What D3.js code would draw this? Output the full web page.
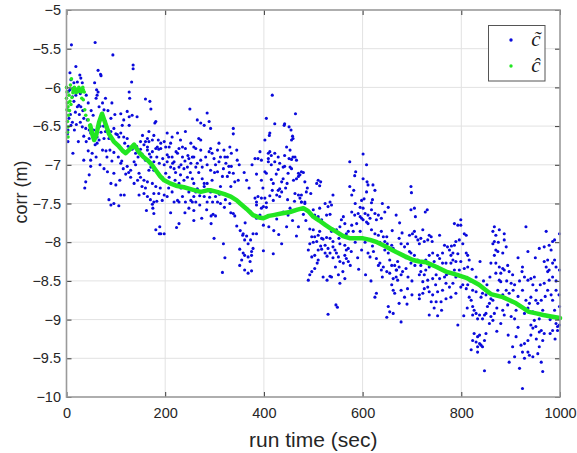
<!DOCTYPE html>
<html>
<head>
<meta charset="utf-8">
<script src="https://cdn.jsdelivr.net/npm/d3@7"></script>
<style>
  body { margin: 0; background: #fff; }
  text { font-family: Arial, "Liberation Sans", Helvetica, sans-serif; }
</style>
</head>
<body>
<div class="chart"></div>
<script>
// Tick values
var xTicks = [0, 200, 400, 600, 800, 1000];
var yTicks = [-10, -9.5, -9, -8.5, -8, -7.5, -7, -6.5, -6, -5.5, -5];

var cTildeEarly = [
  [10,-5.45],[58,-5.42],[19,-5.73],[7,-5.81],[64,-5.78],[69,-5.83],[70,-5.85],[27,-5.84],[29,-5.88],[32,-5.94],
  [22,-5.93],[15,-5.94],[9,-5.9],[14,-6.01],[7,-6.03],[57,-5.94],[61,-6.03],[64,-6.06],[62,-6.1],[60,-6.14],
  [79,-6.14],[73,-6.2],[76,-6.29],[19,-6.1],[15,-6.18],[25,-6.23],[22,-6.25],[29,-6.25],[2,-6.29],[5,-6.4],
  [9,-6.49],[3,-6.55],[35,-6.4],[42,-6.42],[32,-6.51],[39,-6.53],[46,-6.55],[49,-6.59],[35,-6.63],[46,-6.66],
  [56,-6.66],[62,-6.64],[90,-6.4],[79,-6.44],[83,-6.53],[96,-6.53],[79,-6.57],[90,-6.57],[86,-6.66],[76,-6.66],
  [96,-6.7],[35,-6.94],[49,-6.94],[49,-7.02],[46,-7.13],[39,-7.22],[37,-7.3],[83,-7.09],[96,-7.11],[90,-7.24],
  [100,-7.26],[86,-7.45],[96,-7.5],[90,-7.52],[106,-7.53],[2,-6.6],[3,-6.7],[73,-6.81],[80,-6.82],[88,-6.81],
  [96,-6.84],[62,-6.72],[58,-6.74],[24,-6.02],[28,-6.08],[12,-6.12],[40,-6.1],[44,-6.2],[26,-6.35],[18,-6.32],
  [50,-6.3],[54,-6.36],[66,-6.25],[68,-6.5],[70,-6.58],[4,-6.05],[8,-6.35],[12,-6.45],[16,-6.55],[20,-6.48],
  [28,-6.45],[33,-6.3],[40,-6.7],[44,-6.82],[52,-6.85],[55,-6.55],[66,-6.68],[70,-6.4],[75,-6.5],[84,-6.3],
  [92,-6.2],[98,-6.35],[82,-6.9],[92,-6.95],[100,-6.6],[24,-6.7],[13,-6.85],[60,-6.9],[68,-7.0],[76,-7.05]
];

var cTildeA = [
  [94,-5.58],[135,-5.71],[135,-5.76],[132,-5.93],[127,-6.06],[128,-6.14],[160,-6.15],[169,-6.18],[171,-6.28],[250,-6.28],
  [285,-6.33],[265,-6.42],[272,-6.46],[279,-6.49],[268,-6.66],[272,-6.68],[258,-6.77],[289,-6.44],[292,-6.53],[110,-6.34],
  [123,-6.31],[127,-6.38],[133,-6.36],[143,-6.38],[116,-6.42],[113,-6.49],[127,-6.49],[181,-6.44],[179,-6.46],[103,-6.61],
  [110,-6.59],[116,-6.64],[123,-6.66],[106,-6.64],[150,-6.7],[160,-6.7],[157,-6.74],[167,-6.7],[164,-6.77],[174,-6.68],
  [164,-6.81],[181,-6.79],[187,-6.8],[191,-6.79],[211,-6.72],[208,-6.77],[228,-6.79],[241,-6.79],[204,-6.87],[214,-6.9],
  [235,-6.9],[248,-6.92],[258,-6.9],[222,-6.83],[225,-6.85],[292,-6.79],[289,-6.83],[295,-6.85],[306,-6.81],[309,-6.72],
  [319,-6.81],[312,-6.9],[326,-6.9],[323,-6.98],[329,-7.02],[309,-6.96],[302,-7.0],[292,-7.07],[306,-7.09],[316,-7.15],
  [295,-7.2],[285,-7.24],[279,-7.28],[292,-7.35],[312,-7.28],[326,-7.15],[333,-7.28],[123,-7.02],[130,-7.07],[137,-6.96],
  [140,-7.0],[147,-7.11],[150,-7.16],[157,-7.2],[164,-7.22],[130,-7.16],[137,-7.24],[147,-7.39],[157,-7.37],[164,-7.41],
  [174,-7.24],[181,-7.28],[177,-7.37],[187,-7.37],[198,-7.39],[204,-7.41],[214,-7.35],[218,-7.48],[225,-7.46],[235,-7.41],
  [241,-7.48],[252,-7.46],[258,-7.41],[262,-7.48],[279,-7.41],[285,-7.48],[296,-7.48],[302,-7.41],[306,-7.48],[228,-7.24],
  [238,-7.2],[245,-7.16],[255,-7.18],[258,-7.24],[265,-7.31],[275,-7.18],[279,-7.24],[218,-7.05],[228,-7.03],[231,-7.13],
  [238,-7.05],[245,-7.03],[252,-6.98],[262,-7.03],[275,-7.03],[285,-7.0],[198,-7.0],[204,-6.96],[211,-7.03],[218,-6.96],
  [201,-7.11],[208,-7.16],[194,-7.16],[187,-7.13],[177,-7.07],[167,-7.07],[171,-7.03],[157,-6.9],[160,-6.94],[171,-6.9],
  [177,-6.96],[174,-6.83],[184,-6.77],[191,-6.72],[198,-6.7],[201,-6.77],[164,-6.66],[154,-6.62],[177,-6.62],[186,-6.68],
  [167,-6.57],[204,-6.59],[214,-6.64],[225,-6.59],[231,-6.68],[241,-6.57],[235,-6.77],[252,-6.72],[262,-6.79],[272,-6.81],
  [255,-6.9],[265,-6.98],[117,-7.39],[110,-7.39],[105,-6.9],[112,-6.95],[140,-6.85],[145,-6.9],[120,-7.12],[108,-7.2],
  [162,-7.59],[174,-7.51],[177,-7.48],[175,-7.56],[177,-7.63],[181,-7.84],[189,-7.8],[188,-7.89],[191,-7.89],[198,-7.89],
  [194,-7.46],[211,-7.62],[228,-7.48],[228,-7.76],[223,-7.81],[255,-7.48],[258,-7.59],[258,-7.72],[274,-7.69],[293,-7.66],
  [297,-7.64],[302,-7.66],[293,-7.76],[299,-7.95],[312,-7.5],[318,-8.02],[321,-8.2],[316,-8.39],[333,-7.62],
  [118,-6.72],[125,-6.76],[133,-6.8],[142,-6.76],[150,-6.8],[153,-6.86],[168,-6.86],[183,-6.9],[188,-6.98],[195,-6.92],
  [207,-6.9],[215,-6.98],[221,-7.1],[232,-7.0],[240,-6.95],[246,-6.88],[251,-7.1],[268,-7.1],[272,-6.94],[282,-6.9],
  [299,-6.92],[300,-7.1],[318,-7.05],[321,-6.9],[330,-7.1],[110,-6.98],[115,-7.05],[126,-7.1],[144,-7.2],[153,-7.28],
  [160,-7.3],[170,-7.45],[183,-7.47],[190,-7.3],[207,-7.3],[220,-7.2],[232,-7.3],[248,-7.35],[262,-7.35],[270,-7.4],
  [290,-7.42],[310,-7.38],[322,-7.45],[270,-7.52],[248,-7.56],[240,-7.62],[284,-7.58],[320,-7.55]
];

var cTildeB = [
  [417,-6.1],[405,-6.4],[422,-6.47],[442,-6.47],[441,-6.49],[464,-6.34],[412,-6.59],[411,-6.62],[451,-6.51],[455,-6.55],
  [458,-6.63],[459,-6.66],[456,-6.68],[338,-6.53],[338,-6.6],[402,-6.68],[392,-6.83],[409,-6.85],[412,-6.83],[415,-6.88],
  [422,-6.85],[409,-6.92],[382,-6.92],[388,-6.92],[395,-6.94],[429,-6.9],[442,-6.88],[446,-6.77],[453,-6.81],[451,-6.92],
  [459,-6.9],[463,-6.9],[466,-6.94],[456,-6.93],[422,-6.96],[432,-6.98],[439,-7.03],[442,-7.02],[429,-7.06],[415,-7.0],
  [409,-6.96],[453,-7.03],[456,-7.05],[449,-7.11],[402,-7.09],[405,-7.11],[385,-7.12],[470,-7.11],[473,-7.13],[476,-7.09],
  [480,-7.1],[470,-7.15],[466,-7.18],[483,-7.22],[415,-7.19],[419,-7.24],[436,-7.22],[439,-7.18],[447,-7.24],[432,-7.31],
  [429,-7.33],[436,-7.35],[417,-7.33],[426,-7.39],[432,-7.41],[463,-7.37],[470,-7.39],[476,-7.39],[473,-7.43],[476,-7.48],
  [486,-7.35],[495,-7.37],[483,-7.48],[510,-7.2],[507,-7.24],[513,-7.27],[515,-7.22],[540,-7.39],[534,-7.48],[574,-6.96],
  [584,-7.14],[586,-7.09],[574,-7.28],[582,-7.33],[578,-7.39],[598,-7.46],[603,-7.44],[601,-6.86],[608,-7.0],[601,-7.18],
  [609,-7.22],[611,-7.26],[621,-7.26],[625,-7.33],[618,-7.49],[608,-7.35],[331,-6.77],[334,-6.85],[345,-6.81],[346,-6.94],
  [334,-7.02],[338,-7.11],[341,-7.22],[348,-7.2],[365,-7.2],[331,-7.5],[382,-7.43],[388,-7.41],[395,-7.43],[402,-7.43],
  [385,-7.48],[405,-7.49],[419,-7.46],[698,-7.28],[699,-7.36],
  [350,-7.0],[360,-7.1],[370,-7.3],[376,-7.0],[395,-7.2],[398,-7.3],[412,-7.4],[425,-7.12],[444,-7.3],[448,-7.45],
  [460,-7.2],[462,-7.47],[488,-7.3],[372,-7.6],[392,-7.65],[410,-7.8],[420,-7.85],[430,-7.9],[446,-7.8],[458,-7.72],
  [470,-7.8],[485,-7.72],[362,-7.75],[352,-7.85]
];

var cTildeC = [
  [338,-7.63],[341,-7.66],[345,-7.79],[358,-7.89],[357,-7.91],[365,-7.92],[361,-7.97],[351,-8.09],[358,-8.14],[361,-8.17],
  [368,-8.19],[375,-8.17],[372,-8.25],[355,-8.23],[351,-8.3],[361,-8.36],[368,-8.4],[375,-8.37],[378,-7.89],[385,-7.89],
  [373,-7.97],[368,-8.02],[378,-8.08],[375,-8.12],[385,-7.52],[395,-7.56],[399,-7.54],[405,-7.55],[385,-7.69],[399,-7.78],
  [399,-8.11],[419,-8.15],[436,-8.02],[466,-7.92],[426,-7.7],[439,-7.61],[453,-7.56],[449,-7.65],[476,-7.48],[483,-7.5],
  [480,-7.64],[493,-7.83],[500,-7.84],[497,-7.93],[503,-7.93],[510,-7.91],[513,-7.86],[517,-7.95],[520,-7.96],[527,-7.94],
  [534,-7.95],[524,-8.04],[507,-7.99],[493,-8.02],[490,-8.1],[497,-8.19],[503,-8.17],[510,-8.23],[508,-8.27],[503,-8.34],
  [497,-8.38],[493,-8.42],[490,-8.49],[510,-8.1],[517,-8.09],[524,-8.14],[530,-8.08],[534,-8.14],[540,-8.06],[544,-8.1],
  [547,-8.14],[551,-8.19],[554,-8.25],[561,-8.27],[567,-8.1],[571,-8.08],[564,-8.17],[567,-8.21],[571,-8.25],[564,-8.04],
  [554,-8.02],[540,-7.99],[537,-7.86],[547,-7.84],[554,-7.8],[557,-7.71],[561,-7.67],[564,-7.76],[571,-7.86],[567,-7.89],
  [527,-7.65],[534,-7.64],[530,-7.54],[537,-7.52],[524,-7.5],[513,-7.56],[500,-7.58],[503,-7.65],[510,-7.67],[517,-7.71],
  [520,-8.45],[528,-8.49],[534,-8.44],[537,-8.45],[551,-8.42],[554,-8.53],[564,-8.47],[546,-8.81],[549,-8.84],[530,-8.93],
  [578,-7.61],[584,-7.65],[591,-7.63],[595,-7.67],[598,-7.69],[601,-7.71],[608,-7.74],[605,-7.63],[611,-7.65],[615,-7.69],
  [618,-7.58],[625,-7.63],[628,-7.71],[632,-7.65],[638,-7.69],[645,-7.61],[601,-7.56],[588,-7.76],[581,-7.86],[595,-7.86],
  [578,-7.78],[611,-7.76],[618,-7.84],[625,-7.89],[632,-7.91],[638,-7.86],[642,-7.93],[645,-7.99],[649,-7.93],[598,-8.1],
  [611,-8.14],[615,-8.19],[622,-8.12],[628,-8.21],[632,-8.3],[635,-8.27],[638,-8.36],[642,-8.32],[649,-8.38],[655,-8.4],
  [662,-8.47],[659,-8.55],[662,-8.62],[665,-8.66],[669,-8.36],[665,-8.3],[645,-8.1],[652,-8.14],[655,-8.23],[659,-8.3],
  [628,-8.66],[625,-8.71],[652,-8.83],[655,-8.9],[662,-8.92],[649,-8.97],[659,-8.04],[662,-8.08],
  [500,-8.0],[515,-8.05],[528,-8.18],[540,-8.2],[545,-8.32],[560,-8.38],[575,-8.3],[585,-8.0],[590,-8.2],[605,-8.0],
  [620,-8.05],[635,-8.0],[650,-8.02],[660,-7.85],[585,-7.5],[595,-7.55],[620,-7.45],[640,-7.5],[652,-7.55],[668,-7.65],
  [675,-7.75],[680,-7.88],[592,-8.35],[606,-8.42],[617,-8.5],[640,-8.45],[552,-7.95],[577,-8.12]
];

var cTildeD = [
  [698,-7.58],[705,-7.56],[707,-7.67],[727,-7.61],[731,-7.58],[695,-7.91],[701,-7.89],[705,-7.86],[708,-7.93],[712,-7.97],
  [715,-8.02],[718,-7.95],[722,-7.84],[725,-7.99],[732,-7.97],[735,-7.91],[739,-7.93],[741,-7.99],[756,-7.91],[674,-7.95],
  [678,-8.02],[685,-8.06],[691,-8.02],[695,-8.12],[698,-8.14],[705,-8.17],[712,-8.23],[718,-8.3],[722,-8.25],[728,-8.23],
  [735,-8.17],[742,-8.14],[752,-8.17],[756,-8.21],[762,-8.14],[766,-8.04],[772,-8.06],[776,-8.1],[779,-8.17],[783,-8.14],
  [786,-8.04],[789,-7.99],[796,-7.97],[803,-8.02],[806,-7.89],[810,-7.91],[786,-7.76],[793,-7.78],[799,-7.71],[799,-7.78],
  [783,-8.23],[789,-8.25],[799,-8.25],[810,-8.14],[813,-8.17],[806,-8.34],[813,-8.32],[816,-8.23],[796,-8.36],[779,-8.27],
  [769,-8.27],[762,-8.27],[752,-8.32],[745,-8.25],[735,-8.32],[728,-8.36],[718,-8.38],[715,-8.42],[722,-8.51],[732,-8.49],
  [742,-8.47],[749,-8.42],[756,-8.47],[766,-8.45],[776,-8.4],[786,-8.36],[789,-8.45],[783,-8.53],[776,-8.58],[769,-8.53],
  [762,-8.62],[752,-8.64],[742,-8.68],[735,-8.64],[732,-8.58],[725,-8.6],[715,-8.68],[715,-8.73],[722,-8.66],[739,-8.77],
  [749,-8.77],[759,-8.77],[769,-8.73],[779,-8.71],[789,-8.66],[799,-8.58],[803,-8.55],[810,-8.6],[813,-8.55],[668,-8.36],
  [674,-8.32],[671,-8.25],[678,-8.42],[681,-8.38],[688,-8.34],[698,-8.27],[678,-8.62],[685,-8.71],[691,-8.6],[674,-8.79],
  [678,-9.03],[735,-8.94],[752,-8.95],[793,-9.07],[668,-8.45],[671,-8.49],
  [688,-8.2],[692,-8.45],[700,-8.5],[706,-8.3],[725,-8.42],[738,-8.3],[748,-8.55],[758,-8.35],[770,-8.42],[780,-8.05],
  [793,-8.15],[805,-8.45],[760,-8.88],[745,-8.85],[700,-8.68],[690,-8.8]
];

var cTildeE = [
  [816,-8.71],[820,-8.75],[823,-8.83],[826,-8.88],[830,-8.92],[823,-8.94],[833,-8.99],[837,-8.94],[843,-8.99],[847,-8.94],
  [850,-8.92],[853,-8.83],[857,-8.79],[840,-8.71],[843,-8.66],[830,-8.64],[823,-8.62],[850,-8.68],[860,-8.73],[826,-9.18],
  [833,-9.22],[837,-9.2],[830,-9.29],[837,-9.31],[833,-9.35],[840,-9.33],[843,-9.35],[847,-9.27],[850,-9.18],[823,-9.27],
  [820,-9.39],[833,-9.42],[847,-9.66],[857,-9.05],[860,-8.96],[864,-9.01],[867,-8.92],[867,-7.8],[864,-7.86],[870,-7.91],
  [867,-7.99],[864,-8.02],[870,-8.1],[874,-8.12],[867,-8.17],[860,-8.27],[870,-8.27],[877,-8.32],[884,-8.34],[880,-8.4],
  [887,-8.36],[877,-8.49],[880,-8.51],[874,-8.62],[884,-8.68],[891,-8.62],[897,-8.66],[901,-8.77],[894,-8.81],[884,-8.88],
  [887,-8.94],[904,-8.77],[911,-8.88],[901,-8.96],[908,-8.99],[887,-7.97],[891,-8.06],[884,-8.14],[887,-7.89],[897,-8.38],
  [904,-8.42],[908,-8.55],[901,-8.53],[877,-7.84],[864,-8.75],[931,-7.8],[935,-8.12],[924,-8.32],[923,-8.38],[928,-8.45],
  [935,-8.49],[924,-8.62],[931,-8.75],[938,-8.79],[941,-8.71],[941,-8.47],[948,-8.45],[945,-8.55],[951,-8.75],[955,-8.79],
  [962,-8.75],[965,-8.88],[968,-8.94],[958,-8.99],[948,-9.01],[941,-9.07],[945,-9.11],[951,-9.09],[958,-9.16],[962,-9.14],
  [968,-9.18],[941,-9.2],[935,-9.27],[928,-9.31],[921,-9.33],[924,-9.42],[935,-9.42],[938,-9.46],[928,-9.5],[945,-9.48],
  [955,-9.44],[958,-9.35],[965,-9.27],[904,-9.35],[911,-9.22],[908,-9.48],[897,-9.55],[918,-9.63],[924,-9.89],[965,-9.67],
  [962,-9.55],[980,-9.18],[985,-9.14],[992,-9.05],[995,-9.09],[999,-8.99],[989,-8.88],[985,-8.75],[982,-8.68],[975,-8.62],
  [968,-8.53],[978,-8.49],[985,-8.45],[975,-8.38],[972,-8.32],[978,-8.36],[985,-8.27],[989,-8.23],[992,-8.32],[999,-8.36],
  [968,-8.25],[975,-8.23],[958,-8.08],[968,-8.06],[978,-8.04],[982,-8.1],[985,-7.99],[989,-7.97],[972,-7.86],[999,-7.89],
  [992,-8.62],[998,-8.68],[999,-8.83],[999,-9.07],[995,-9.14],
  [818,-8.5],[822,-8.35],[830,-8.45],[838,-8.25],[845,-8.5],[852,-8.55],[858,-8.45],[870,-8.4],[875,-8.0],[892,-8.5],
  [905,-8.62],[915,-8.7],[918,-8.5],[928,-8.92],[935,-8.85],[945,-8.9],[952,-8.62],[960,-8.55],[970,-8.7],[975,-8.95],
  [980,-9.0],[990,-9.25],[952,-9.25],[915,-9.1],[895,-9.2],[880,-9.05],[872,-9.15],[812,-8.85],[805,-8.95],[872,-8.85],
  [894,-8.3],[915,-8.2],[950,-8.2],[992,-8.5]
];

// Estimated correction c^ : scattered start, then a steady track
var cHatStart = [
  [0,-6.0],[1,-6.06],[0,-6.14],[2,-6.2],[3,-6.25],[1,-6.29],[4,-6.36],[2,-6.44],[3,-6.51],[2,-6.58],
  [3,-6.64],[5,-6.1],[7,-6.18],[8,-5.97],[10,-5.89],[12,-6.02],[14,-6.05],[16,-6.0],[18,-6.04],[20,-6.02],
  [22,-6.06],[24,-6.03],[26,-6.05],[28,-6.02],[30,-6.06],[32,-6.04],[34,-6.03],[36,-6.06],[31,-6.14],[34,-6.16],
  [37,-6.29],[39,-6.36],[44,-6.42],[6,-6.3],[9,-6.22],[11,-6.13],[13,-6.07],[19,-6.07],[25,-6.0],[33,-6.0]
];

var cHatTrack = [
  [48,-6.49],[52,-6.6],[56,-6.68],[60,-6.62],[66,-6.45],[72,-6.34],[78,-6.45],[86,-6.6],[96,-6.7],[106,-6.76],
  [114,-6.82],[120,-6.85],[128,-6.8],[137,-6.74],[146,-6.83],[156,-6.9],[166,-6.95],[173,-7.0],[182,-7.08],[190,-7.15],
  [198,-7.2],[210,-7.24],[222,-7.27],[238,-7.29],[255,-7.32],[272,-7.35],[285,-7.33],[293,-7.33],[305,-7.35],[320,-7.38],
  [333,-7.41],[345,-7.46],[352,-7.5],[365,-7.57],[378,-7.65],[390,-7.68],[399,-7.69],[410,-7.66],[419,-7.65],[435,-7.63],
  [453,-7.61],[468,-7.58],[480,-7.56],[490,-7.6],[500,-7.67],[512,-7.72],[525,-7.78],[537,-7.83],[548,-7.87],[560,-7.92],
  [575,-7.95],[590,-7.95],[601,-7.95],[615,-7.97],[629,-8.0],[645,-8.05],[660,-8.1],[669,-8.13],[685,-8.18],[702,-8.23],
  [715,-8.25],[729,-8.26],[750,-8.32],[769,-8.38],[790,-8.42],[810,-8.46],[825,-8.51],[836,-8.55],[848,-8.61],[860,-8.67],
  [872,-8.69],[884,-8.71],[898,-8.75],[911,-8.79],[925,-8.85],[937,-8.9],[952,-8.92],[966,-8.94],[982,-8.96],[1000,-8.98]
];

var cTilde = cTildeEarly.concat(cTildeA, cTildeB, cTildeC, cTildeD, cTildeE);

// Setup Chart Parameters/Dimensions
var svgWidth = 577;
var svgHeight = 453;
var margin = { top: 10, right: 17, bottom: 56, left: 66.5 };
var width = svgWidth - margin.left - margin.right;
var height = svgHeight - margin.top - margin.bottom;

var svg = d3.select(".chart")
  .append("svg")
  .attr("width", svgWidth)
  .attr("height", svgHeight);

var chartGroup = svg.append("g")
  .attr("transform", `translate(${margin.left}, ${margin.top})`);

var xScale = d3.scaleLinear().domain([0, 1000]).range([0, width]);
var yScale = d3.scaleLinear().domain([-10, -5]).range([height, 0]);

var fmt = d => String(d).replace("-", "\u2212");

// Grid lines
chartGroup.append("g").selectAll("line")
  .data(xTicks.slice(1, -1))
  .enter().append("line")
  .attr("x1", d => xScale(d)).attr("x2", d => xScale(d))
  .attr("y1", 0).attr("y2", height)
  .attr("stroke", "#e2e2e2").attr("stroke-width", 1);

chartGroup.append("g").selectAll("line")
  .data(yTicks.slice(1, -1))
  .enter().append("line")
  .attr("y1", d => yScale(d)).attr("y2", d => yScale(d))
  .attr("x1", 0).attr("x2", width)
  .attr("stroke", "#e2e2e2").attr("stroke-width", 1);

// Scatter of c~
chartGroup.append("g").selectAll("circle")
  .data(cTilde)
  .enter().append("circle")
  .attr("cx", d => xScale(d[0]))
  .attr("cy", d => yScale(d[1]))
  .attr("r", 1.55)
  .attr("fill", "#0a0adc");

// c^ start dots and track
chartGroup.append("g").selectAll("circle")
  .data(cHatStart)
  .enter().append("circle")
  .attr("cx", d => xScale(d[0]))
  .attr("cy", d => yScale(d[1]))
  .attr("r", 1.8)
  .attr("fill", "#22e622");

var trackLine = d3.line()
  .x(d => xScale(d[0]))
  .y(d => yScale(d[1]));

chartGroup.append("path")
  .datum(cHatTrack)
  .attr("d", trackLine)
  .attr("fill", "none")
  .attr("stroke", "#22e622")
  .attr("stroke-width", 4.5)
  .attr("stroke-linejoin", "round")
  .attr("stroke-linecap", "round");

// Axes with inward ticks
function styleAxis(sel) {
  sel.select(".domain").remove();
  sel.selectAll(".tick line").attr("stroke", "#3a3a3a");
  sel.selectAll("text").attr("fill", "#262626").style("font-size", "14.5px");
}

chartGroup.append("g")
  .attr("transform", `translate(0, ${height})`)
  .call(d3.axisBottom(xScale).tickValues(xTicks).tickSizeInner(-5).tickSizeOuter(0).tickPadding(11).tickFormat(fmt))
  .call(styleAxis);

chartGroup.append("g")
  .call(d3.axisTop(xScale).tickValues(xTicks).tickSizeInner(-5).tickSizeOuter(0).tickFormat(""))
  .call(styleAxis);

chartGroup.append("g")
  .call(d3.axisLeft(yScale).tickValues(yTicks).tickSizeInner(-5).tickSizeOuter(0).tickPadding(5.5).tickFormat(fmt))
  .call(styleAxis);

chartGroup.append("g")
  .attr("transform", `translate(${width}, 0)`)
  .call(d3.axisRight(yScale).tickValues(yTicks).tickSizeInner(-5).tickSizeOuter(0).tickFormat(""))
  .call(styleAxis);

// Box
chartGroup.append("rect")
  .attr("x", 0).attr("y", 0)
  .attr("width", width).attr("height", height)
  .attr("fill", "none")
  .attr("stroke", "#9a9a9a")
  .attr("stroke-width", 1.6);

// Axis labels
chartGroup.append("text")
  .attr("x", width / 2)
  .attr("y", height + 50)
  .attr("text-anchor", "middle")
  .attr("fill", "#262626")
  .style("font-size", "21px")
  .text("run time (sec)");

svg.append("text")
  .attr("transform", "translate(27, 192) rotate(-90)")
  .attr("text-anchor", "middle")
  .attr("fill", "#262626")
  .style("font-size", "18px")
  .text("corr (m)");

// Legend
var legend = svg.append("g");
legend.append("rect")
  .attr("x", 488.5).attr("y", 25.5)
  .attr("width", 56.5).attr("height", 55.5)
  .attr("fill", "#fff")
  .attr("stroke", "#555")
  .attr("stroke-width", 1);

var legendItems = [
  { label: "c\u0303", color: "#0a0adc", y: 40 },
  { label: "c\u0302", color: "#22e622", y: 66 }
];

legend.selectAll("circle")
  .data(legendItems)
  .enter().append("circle")
  .attr("cx", 511).attr("cy", d => d.y)
  .attr("r", 1.7)
  .attr("fill", d => d.color);

legend.selectAll("text")
  .data(legendItems)
  .enter().append("text")
  .attr("x", 536).attr("y", d => d.y + 6)
  .attr("text-anchor", "middle")
  .attr("fill", "#1a1a1a")
  .style("font-family", "'Liberation Serif', 'DejaVu Serif', serif")
  .style("font-style", "italic")
  .style("font-size", "21px")
  .text(d => d.label);
</script>
</body>
</html>
